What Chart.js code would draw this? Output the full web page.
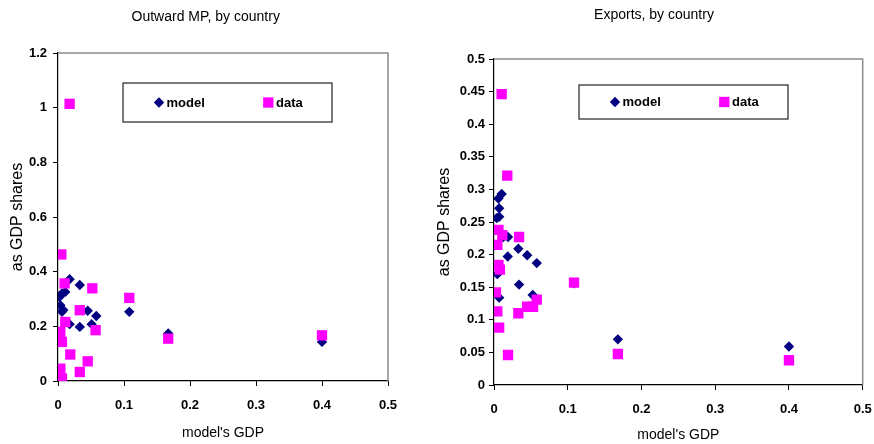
<!DOCTYPE html>
<html>
<head>
<meta charset="utf-8">
<script src="https://cdn.jsdelivr.net/npm/chart.js@4.4.0/dist/chart.umd.min.js"></script>
<style>
    html, body { margin: 0; padding: 0; background: #fff; }
    #wrap { position: relative; width: 874px; height: 444px; overflow: hidden; }
    .panel { position: absolute; top: 0; width: 437px; height: 444px; }
</style>
</head>
<body>
<div id="wrap">
    <div class="panel" style="left:0"><canvas id="mp" width="437" height="444"></canvas></div>
    <div class="panel" style="left:437px"><canvas id="ex" width="437" height="444"></canvas></div>
</div>
<script>
// Ejes comunes
const xTicks = [0, 0.1, 0.2, 0.3, 0.4, 0.5];

// Outward MP, by country
const mpYTicks = [0, 0.2, 0.4, 0.6, 0.8, 1, 1.2];
const mpModelX = [0.0025, 0.006, 0.011, 0.0035, 0.006, 0.008, 0.0176, 0.033, 0.045, 0.058, 0.0176, 0.033, 0.051, 0.108, 0.167, 0.4];
const mpModelY = [0.308, 0.32, 0.326, 0.277, 0.253, 0.26, 0.372, 0.351, 0.257, 0.238, 0.208, 0.198, 0.208, 0.253, 0.174, 0.143];
const mpDataX = [0.0176, 0.005, 0.010, 0.052, 0.108, 0.033, 0.011, 0.0035, 0.006, 0.057, 0.167, 0.4, 0.0186, 0.045, 0.033, 0.0035, 0.006];
const mpDataY = [1.014, 0.463, 0.357, 0.339, 0.304, 0.259, 0.216, 0.18, 0.143, 0.186, 0.155, 0.167, 0.097, 0.072, 0.033, 0.045, 0.009];

// Exports, by country
const exYTicks = [0, 0.05, 0.1, 0.15, 0.2, 0.25, 0.3, 0.35, 0.4, 0.45, 0.5];
const exModelX = [0.0104, 0.006, 0.007, 0.007, 0.0037, 0.0126, 0.019, 0.033, 0.045, 0.058, 0.0186, 0.0045, 0.034, 0.0525, 0.007, 0.1085, 0.168, 0.4];
const exModelY = [0.293, 0.286, 0.271, 0.258, 0.256, 0.227, 0.227, 0.209, 0.199, 0.187, 0.197, 0.170, 0.154, 0.138, 0.134, 0.156, 0.070, 0.059];
const exDataX = [0.0104, 0.018, 0.006, 0.0113, 0.0045, 0.034, 0.006, 0.008, 0.0027, 0.0045, 0.007, 0.019, 0.033, 0.045, 0.053, 0.058, 0.1085, 0.168, 0.4];
const exDataY = [0.446, 0.321, 0.238, 0.230, 0.215, 0.227, 0.184, 0.177, 0.142, 0.113, 0.088, 0.046, 0.110, 0.120, 0.120, 0.131, 0.157, 0.0475, 0.038];

const FONT = '"Liberation Sans", Arial, sans-serif';
const NAVY = '#000080';
const MAGENTA = '#ff00ff';

function puntos(xs, ys) {
    return xs.map((x, i) => ({ x: x, y: ys[i] }));
}

function marcador(ctx, estilo, r, x, y) {
    ctx.beginPath();
    if (estilo === 'rectRot') {
        ctx.moveTo(x, y - r);
        ctx.lineTo(x + r, y);
        ctx.lineTo(x, y + r);
        ctx.lineTo(x - r, y);
    } else {
        const s = r * Math.SQRT1_2;
        ctx.rect(x - s, y - s, 2 * s, 2 * s);
    }
    ctx.closePath();
    ctx.fill();
}

// Marco gris, título y leyenda con recuadro (al estilo Excel)
const panelPlugin = {
    id: 'panel',
    beforeDatasetsDraw(chart) {
        const { ctx, chartArea: a } = chart;
        ctx.save();
        ctx.strokeStyle = '#8c8c8c';
        ctx.lineWidth = 1.5;
        ctx.beginPath();
        ctx.moveTo(a.left, a.top);
        ctx.lineTo(a.right, a.top);
        ctx.lineTo(a.right, a.bottom);
        ctx.stroke();
        ctx.restore();
    },
    afterDraw(chart, args, opts) {
        const { ctx, chartArea: a } = chart;
        ctx.save();
        ctx.fillStyle = '#000';
        ctx.font = '14px ' + FONT;
        ctx.textAlign = 'center';
        ctx.textBaseline = 'middle';
        ctx.fillText(opts.title, opts.titleX, opts.titleY);

        const bx = a.left + opts.boxLeft;
        const by = a.top + opts.boxTop;
        ctx.fillStyle = '#fff';
        ctx.fillRect(bx, by, opts.boxWidth, opts.boxHeight);
        ctx.strokeStyle = '#222';
        ctx.lineWidth = 1.2;
        ctx.strokeRect(bx, by, opts.boxWidth, opts.boxHeight);

        const cy = by + opts.boxHeight / 2;
        ctx.font = 'bold 13px ' + FONT;
        ctx.textAlign = 'left';
        const mx = [36, 145.3];
        const tx = [43.5, 153];
        chart.data.datasets.forEach((ds, i) => {
            ctx.fillStyle = ds.backgroundColor;
            marcador(ctx, ds.pointStyle, ds.pointRadius, bx + mx[i], cy);
            ctx.fillStyle = '#000';
            ctx.fillText(ds.label, bx + tx[i], cy + 0.5);
        });
        ctx.restore();
    }
};

function crearGrafica(id, cfg) {
    const ctx = document.getElementById(id).getContext('2d');
    return new Chart(ctx, {
        type: 'scatter',
        data: {
            datasets: [
                {
                    label: 'model',
                    data: puntos(cfg.modelX, cfg.modelY),
                    pointStyle: 'rectRot',
                    pointRadius: 5.2,
                    backgroundColor: NAVY,
                    borderWidth: 0,
                    order: 1
                },
                {
                    label: 'data',
                    data: puntos(cfg.dataX, cfg.dataY),
                    pointStyle: 'rect',
                    pointRadius: 7.3,
                    backgroundColor: MAGENTA,
                    borderWidth: 0,
                    order: 0
                }
            ]
        },
        options: {
            responsive: false,
            animation: false,
            devicePixelRatio: 1,
            layout: { padding: { left: 0, right: cfg.padRight, top: cfg.padTop, bottom: 0 } },
            plugins: {
                legend: { display: false },
                tooltip: { enabled: false },
                panel: cfg.panel
            },
            scales: {
                x: {
                    type: 'linear',
                    min: 0,
                    max: 0.5,
                    afterBuildTicks: (axis) => { axis.ticks = xTicks.map(v => ({ value: v })); },
                    afterFit: (axis) => {
                        axis.height = cfg.xHeight;
                        axis.paddingLeft = 0;
                        axis.paddingRight = 0;
                    },
                    ticks: {
                        color: '#000',
                        padding: 12,
                        maxRotation: 0,
                        font: { family: FONT, size: 13, weight: 'bold' },
                        callback: (v) => String(v)
                    },
                    grid: { drawOnChartArea: false, tickLength: 5, color: '#000' },
                    border: { color: '#000', width: 1.2 },
                    title: {
                        display: true,
                        text: "model's GDP",
                        color: '#000',
                        padding: { top: 0, bottom: cfg.xTitlePad },
                        font: { family: FONT, size: 14 }
                    }
                },
                y: {
                    type: 'linear',
                    min: 0,
                    max: cfg.yMax,
                    afterBuildTicks: (axis) => { axis.ticks = cfg.yTicks.map(v => ({ value: v })); },
                    afterFit: (axis) => { axis.width = cfg.yWidth; },
                    ticks: {
                        color: '#000',
                        padding: cfg.yTickPad,
                        font: { family: FONT, size: 13, weight: 'bold' },
                        callback: (v) => String(v)
                    },
                    grid: { drawOnChartArea: false, tickLength: 5, color: '#000' },
                    border: { color: '#000', width: 1.2 },
                    title: {
                        display: true,
                        text: 'as GDP shares',
                        color: '#000',
                        padding: { top: cfg.yTitlePad, bottom: 0 },
                        font: { family: FONT, size: 16, lineHeight: 1 }
                    }
                }
            }
        },
        plugins: [panelPlugin]
    });
}

crearGrafica('mp', {
    modelX: mpModelX, modelY: mpModelY, dataX: mpDataX, dataY: mpDataY,
    yTicks: mpYTicks, yMax: 1.2,
    padRight: 49, padTop: 53, xHeight: 63, yWidth: 58,
    yTickPad: 6, xTitlePad: 2, yTitlePad: 10,
    panel: { title: 'Outward MP, by country', titleX: 205.7, titleY: 17,
             boxLeft: 65, boxTop: 30, boxWidth: 209, boxHeight: 39 }
});

crearGrafica('ex', {
    modelX: exModelX, modelY: exModelY, dataX: exDataX, dataY: exDataY,
    yTicks: exYTicks, yMax: 0.5,
    padRight: 11.3, padTop: 59, xHeight: 59, yWidth: 57,
    yTickPad: 4, xTitlePad: 0, yTitlePad: 0,
    panel: { title: 'Exports, by country', titleX: 217, titleY: 15,
             boxLeft: 85, boxTop: 26, boxWidth: 209, boxHeight: 34 }
});
</script>
</body>
</html>
